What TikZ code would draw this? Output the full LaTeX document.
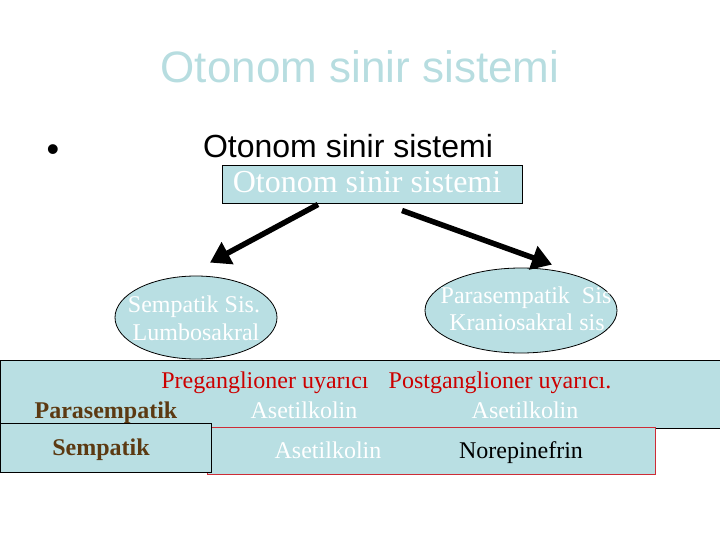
\documentclass[tikz,border=0pt]{standalone}
\usepackage{fontspec}
\setmainfont{Liberation Serif}
\setsansfont{Liberation Sans}
\usetikzlibrary{shapes.geometric, arrows.meta}
\definecolor{paleblue}{RGB}{185, 223, 227}
\definecolor{titleblue}{RGB}{183, 221, 224}
\definecolor{earth}{RGB}{92, 58, 18}
\definecolor{redtext}{RGB}{204, 0, 0}
\definecolor{redline}{RGB}{205, 45, 55}
\tikzset{
    panel/.style={rectangle, draw=black, line width=1pt, fill=paleblue, inner sep=0pt},
    oval/.style={ellipse, draw=black, line width=0.8pt, fill=paleblue, inner sep=0pt},
    txt/.style={inner sep=0pt, anchor=base, font=\fontsize{24}{28}\selectfont},
    boldtxt/.style={txt, text=earth, font=\fontsize{24}{28}\selectfont\bfseries},
    bigarr/.style={-{Triangle[length=20pt,width=24pt]}, line width=5.5pt, black}
}
\begin{document}
\begin{tikzpicture}[x=1pt, y=-1pt]
        \useasboundingbox (0,0) rectangle (720,540);
        \node[txt, text=titleblue, font=\sffamily\fontsize{44}{50}\selectfont] (title) at (360,83) {Otonom sinir sistemi};
        \node[txt, font=\sffamily\fontsize{36}{40}\selectfont] (dot) at (53,162) {\textbullet};
        \node[txt, font=\sffamily\fontsize{32}{36}\selectfont] (head) at (348,158) {Otonom sinir sistemi};
        \node[panel, minimum width=300pt, minimum height=38pt] (oss) at (372,185) {};
        \node[txt, text=white, font=\fontsize{32}{36}\selectfont] (osstext) at (367,193) {Otonom sinir sistemi};
        % ellipses
        \node[oval, minimum width=162pt, minimum height=83pt] (symp) at (196,317.5) {};
        \node[oval, minimum width=192pt, minimum height=85pt] (para) at (521,310.5) {};
        \node[txt, text=white] (symp1) at (194,312) {Sempatik Sis.};
        \node[txt, text=white] (symp2) at (196,340) {Lumbosakral};
        \node[txt, text=white] (para1) at (526,303) {Parasempatik\ \ Sis};
        \node[txt, text=white] (para2) at (527,330) {Kraniosakral sis};
        \draw[bigarr] ([xshift=-54pt]oss.south) -- ([xshift=14pt,yshift=13pt]symp.north);
        \draw[bigarr] ([xshift=30pt,yshift=-6pt]oss.south) -- ([xshift=31pt,yshift=3pt]para.north);
        % table
        \node[panel, minimum width=724pt, minimum height=68pt, anchor=north west] (band) at (0,360) {};
        \node[panel, draw=redline, minimum width=448pt, minimum height=47pt, anchor=north west] (nebox) at (207,427) {};
        \node[panel, minimum width=211pt, minimum height=49pt, anchor=north west] (sbox) at (0,423) {};
        \node[txt, text=redtext] (pre) at (265,388) {Preganglioner uyarıcı};
        \node[txt, text=redtext] (post) at (500,388) {Postganglioner uyarıcı.};
        \node[boldtxt] (pname) at (106,418) {Parasempatik};
        \node[txt, text=white] (pach1) at (304,418) {Asetilkolin};
        \node[txt, text=white] (pach2) at (525,418) {Asetilkolin};
        \node[boldtxt] (sname) at (101,455) {Sempatik};
        \node[txt, text=white] (sach) at (328,458) {Asetilkolin};
        \node[txt] (sne) at (521,458) {Norepinefrin};
    \end{tikzpicture}
\end{document}
